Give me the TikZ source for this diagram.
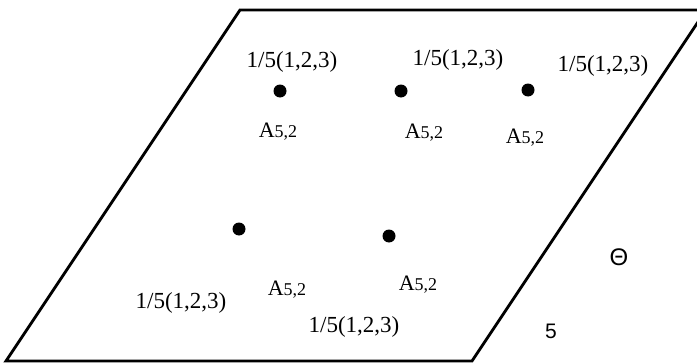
\documentclass[tikz,border=0pt]{standalone}
\usepackage{fontspec}
\setmainfont{Liberation Serif}
\newfontfamily\sansfam{Liberation Sans}
\begin{document}
\begin{tikzpicture}[x=1pt,y=-1pt,
  frac/.style={inner sep=0pt,font=\fontsize{23}{24}\selectfont},
  alab/.style={inner sep=0pt,font=\fontsize{22}{23}\selectfont},
  pt/.style={circle,fill=black,inner sep=0pt,minimum size=13pt}]
\newcommand{\alabtext}{A{\fontsize{18}{19}\selectfont 5,2}}
\useasboundingbox (0,0) rectangle (697,364);
\clip (0,0) rectangle (697,364);
\draw[line width=2.8pt,line join=miter] (240,10) -- (706,10) -- (472,361) -- (6,361) -- cycle;
% top row
\node[pt] (d1) at (280,91) {};
\node[pt] (d2) at (401,91) {};
\node[pt] (d3) at (528,90) {};
\node[frac] (f1) at (292,62) {1/5(1,2,3)};
\node[frac] (f2) at (458,60) {1/5(1,2,3)};
\node[frac] (f3) at (603,66) {1/5(1,2,3)};
\node[alab] (a1) at (278,132) {\alabtext};
\node[alab] (a2) at (424,133) {\alabtext};
\node[alab] (a3) at (525,138) {\alabtext};
% bottom row
\node[pt] (d4) at (239,229) {};
\node[pt] (d5) at (389,236) {};
\node[frac] (f4) at (181,303) {1/5(1,2,3)};
\node[frac] (f5) at (354,327) {1/5(1,2,3)};
\node[alab] (a4) at (287,290) {\alabtext};
\node[alab] (a5) at (418,285) {\alabtext};
\node[inner sep=0pt,font=\sansfam\fontsize{24}{26}\selectfont] (th) at (619,257) {Θ};
\node[inner sep=0pt,font=\sansfam\fontsize{21}{22}\selectfont] (five) at (551,331) {5};
\end{tikzpicture}
\end{document}
